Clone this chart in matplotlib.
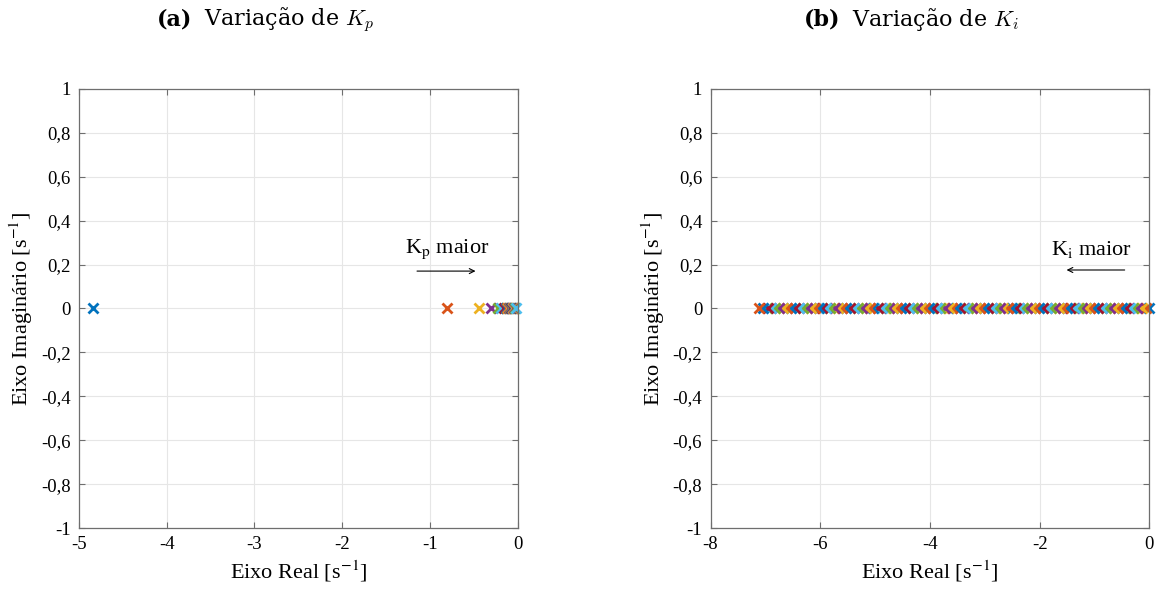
import matplotlib
matplotlib.use("Agg")
import matplotlib.pyplot as plt

# poles when varying Kp (real part, imag = 0)
polos_kp = [-4.84, -0.81, -0.44, -0.30, -0.23, -0.19, -0.16, -0.14, -0.12, -0.11,
            -0.10, -0.09, -0.08, -0.075, -0.07, -0.06, -0.05, -0.04, -0.03, -0.02]
# poles when varying Ki
polos_ki = [0.00, -0.07, -0.14, -0.22, -0.29, -0.36, -0.43, -0.50, -0.57, -0.65,
            -0.72, -0.79, -0.86, -0.93, -1.01, -1.08, -1.15, -1.22, -1.29, -1.36,
            -1.44, -1.51, -1.58, -1.65, -1.72, -1.80, -1.87, -1.94, -2.01, -2.08,
            -2.15, -2.23, -2.30, -2.37, -2.44, -2.51, -2.58, -2.66, -2.73, -2.80,
            -2.87, -2.94, -3.02, -3.09, -3.16, -3.23, -3.30, -3.37, -3.45, -3.52,
            -3.59, -3.66, -3.73, -3.81, -3.88, -3.95, -4.02, -4.09, -4.16, -4.24,
            -4.31, -4.38, -4.45, -4.52, -4.60, -4.67, -4.74, -4.81, -4.88, -4.95,
            -5.03, -5.10, -5.17, -5.24, -5.31, -5.39, -5.46, -5.53, -5.60, -5.67,
            -5.74, -5.82, -5.89, -5.96, -6.03, -6.10, -6.17, -6.25, -6.32, -6.39,
            -6.46, -6.53, -6.61, -6.68, -6.75, -6.82, -6.89, -6.96, -7.04, -7.11]

yticks = [-1, -0.8, -0.6, -0.4, -0.2, 0, 0.2, 0.4, 0.6, 0.8, 1]
ylabels = ['-1', '-0,8', '-0,6', '-0,4', '-0,2', '0', '0,2', '0,4', '0,6', '0,8', '1']
cores = ['#0072BD', '#D95319', '#EDB120', '#7E2F8E', '#77AC30', '#4DBEEE', '#A2142F']

plt.rcParams['font.family'] = ['Liberation Serif', 'DejaVu Serif']
plt.rcParams['mathtext.fontset'] = 'stix'
plt.rcParams['axes.unicode_minus'] = False

fig = plt.figure(figsize=(11.61, 5.96), dpi=100)
ax1 = fig.add_axes([0.068, 0.114, 0.378, 0.737])
ax2 = fig.add_axes([0.612, 0.114, 0.378, 0.737])


def prepara(ax, xlim, xticks):
    ax.set_xlim(xlim)
    ax.set_ylim(-1, 1)
    ax.set_xticks(xticks)
    ax.set_xticklabels([str(t) for t in xticks])
    ax.set_yticks(yticks)
    ax.set_yticklabels(ylabels)
    ax.grid(True, color='#e6e6e6', lw=0.8)
    ax.set_axisbelow(True)
    for s in ax.spines.values():
        s.set_color('#6e6e6e')
        s.set_linewidth(0.9)
    ax.tick_params(direction='in', top=True, right=True, length=4,
                   color='#6e6e6e', labelsize=13.5, pad=6)
    ax.set_xlabel('Eixo Real [s$^{-1}$]', fontsize=16, labelpad=4)
    ax.set_ylabel('Eixo Imaginário [s$^{-1}$]', fontsize=16, labelpad=4)


for i, p in enumerate(polos_kp):
    ax1.plot(p, 0, 'x', color=cores[i % 7], ms=6.5, mew=2, clip_on=False)
for i, p in enumerate(polos_ki):
    ax2.plot(p, 0, 'x', color=cores[i % 7], ms=6.5, mew=2, clip_on=False)

prepara(ax1, (-5, 0), [-5, -4, -3, -2, -1, 0])
prepara(ax2, (-8, 0), [-8, -6, -4, -2, 0])

ax1.text(-0.8, 0.27, r'K$_\mathrm{p}$ maior', fontsize=16, ha='center', va='center')
ax1.annotate('', xy=(-0.45, 0.17), xytext=(-1.18, 0.17),
             arrowprops=dict(arrowstyle='->', color='black', lw=0.8, mutation_scale=9))
ax2.text(-1.06, 0.27, r'K$_\mathrm{i}$ maior', fontsize=16, ha='center', va='center')
ax2.annotate('', xy=(-1.56, 0.175), xytext=(-0.40, 0.175),
             arrowprops=dict(arrowstyle='->', color='black', lw=0.8, mutation_scale=9))

# subfigure captions: bold label + normal text
for xl, xt, lab, txt in [(0.166, 0.176, '(a)', r'Variação de $K_p$'),
                         (0.724, 0.734, '(b)', r'Variação de $K_i$')]:
    fig.text(xl, 0.968, lab, fontsize=16, fontweight='bold',
             ha='right', va='center', family='DejaVu Serif')
    fig.text(xt, 0.968, txt, fontsize=16, ha='left', va='center',
             family='DejaVu Serif', math_fontfamily='cm')

fig.savefig('out.png', dpi=100)
